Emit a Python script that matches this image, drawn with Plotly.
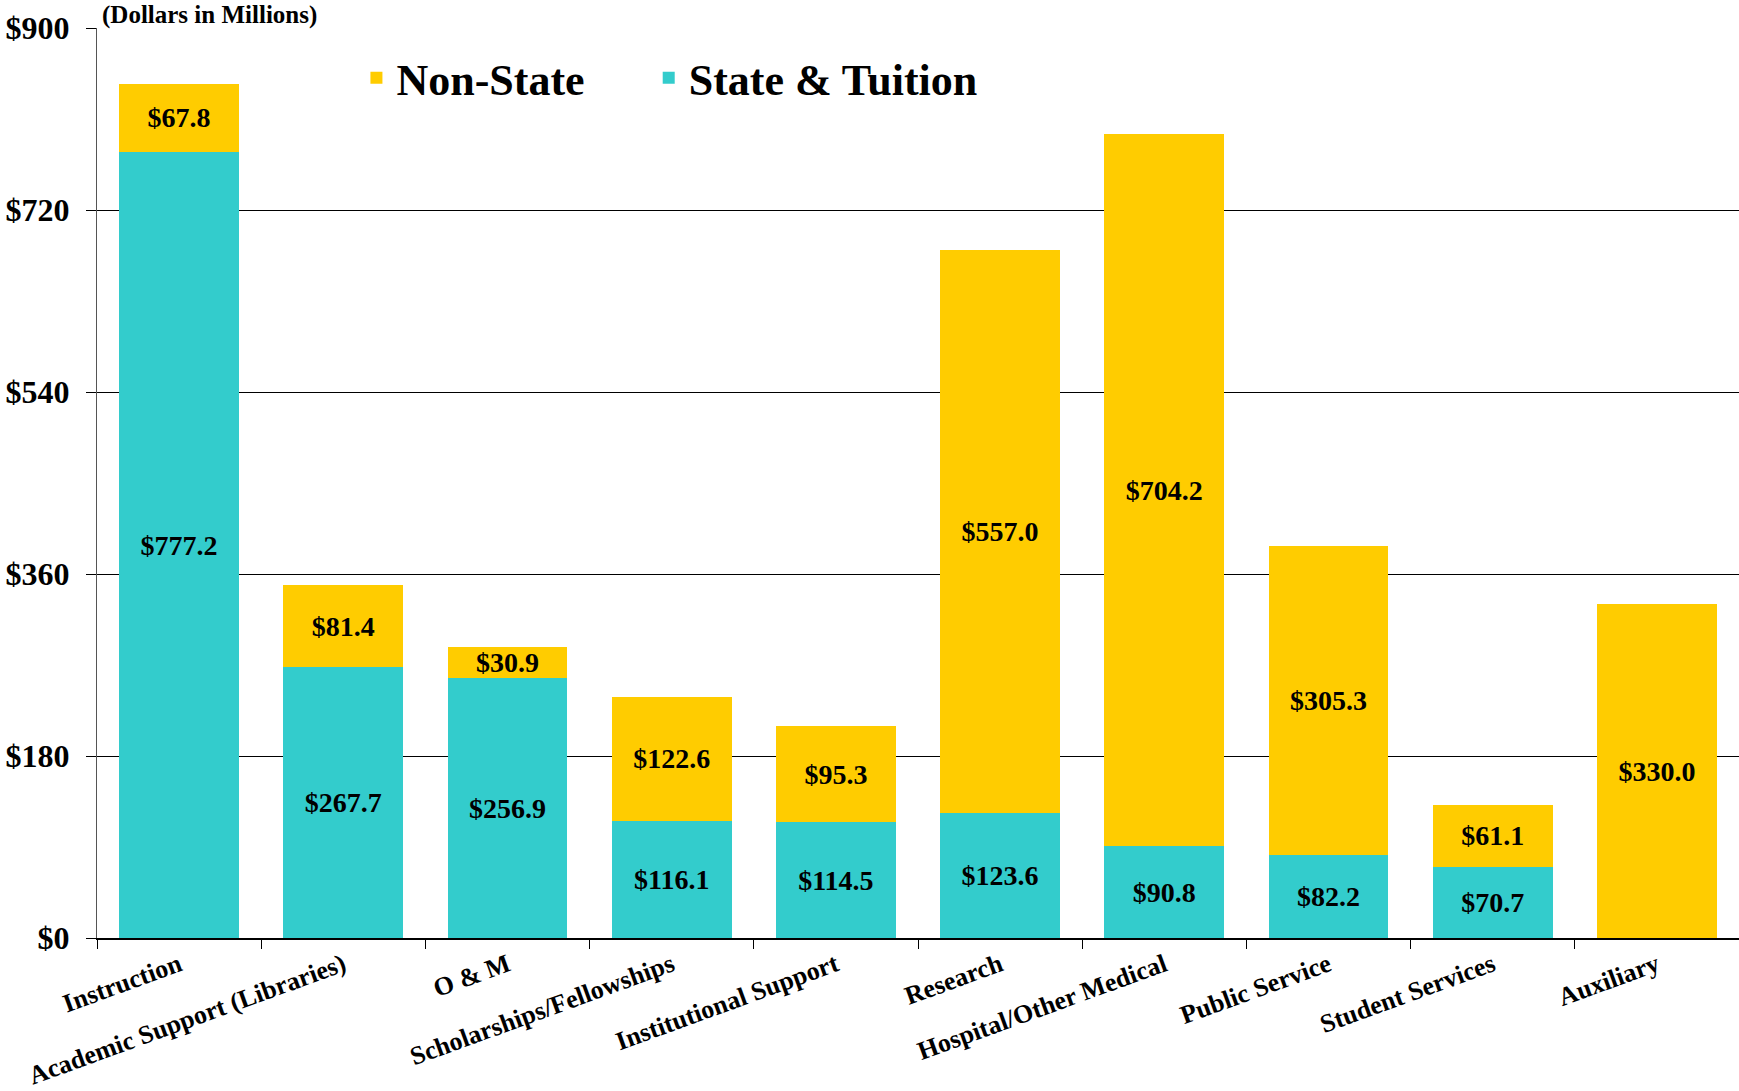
import plotly.graph_objects as go

categories = [
    "Instruction",
    "Academic Support (Libraries)",
    "O & M",
    "Scholarships/Fellowships",
    "Institutional Support",
    "Research",
    "Hospital/Other Medical",
    "Public Service",
    "Student Services",
    "Auxiliary",
]
state_tuition = [777.2, 267.7, 256.9, 116.1, 114.5, 123.6, 90.8, 82.2, 70.7, 0.0]
non_state = [67.8, 81.4, 30.9, 122.6, 95.3, 557.0, 704.2, 305.3, 61.1, 330.0]
y_ticks = [0, 180, 360, 540, 720, 900]

FONT = "Liberation Serif"
TEAL = "#33CCCC"
GOLD = "#FFCC00"


def labels(values):
    return [f"${v:.1f}" if v else "" for v in values]


fig = go.Figure()

fig.add_trace(go.Bar(
    x=categories, y=state_tuition, name="State & Tuition", legend="legend2",
    marker=dict(color=TEAL, line=dict(width=0)),
    text=labels(state_tuition), textposition="inside", insidetextanchor="middle",
    textangle=0, constraintext="none",
    textfont=dict(family=FONT, size=28, color="black", weight="bold"),
    hoverinfo="skip", showlegend=True,
))
fig.add_trace(go.Bar(
    x=categories, y=non_state, name="Non-State", legend="legend",
    marker=dict(color=GOLD, line=dict(width=0)),
    text=labels(non_state), textposition="inside", insidetextanchor="middle",
    textangle=0, constraintext="none",
    textfont=dict(family=FONT, size=28, color="black", weight="bold"),
    hoverinfo="skip", showlegend=True,
))

fig.add_annotation(
    text="(Dollars in Millions)", xref="paper", yref="paper",
    x=0.002, y=1.0, xanchor="left", yanchor="bottom", showarrow=False,
    yshift=-3,
    font=dict(family=FONT, size=25, color="black", weight="bold"),
)

legend_style = dict(
    orientation="h", yanchor="middle", xanchor="left", y=0.945,
    font=dict(family=FONT, size=44, color="black", weight="bold"),
    bgcolor="rgba(0,0,0,0)",
)

fig.update_layout(
    width=1739, height=1091,
    barmode="stack", bargap=0.27, showlegend=True,
    plot_bgcolor="white", paper_bgcolor="white",
    margin=dict(l=97, r=0, t=28, b=153, autoexpand=False),
    font=dict(family=FONT, color="black"),
    legend=dict(x=0.158, **legend_style),
    legend2=dict(x=0.336, **legend_style),
    xaxis=dict(
        tickangle=-20, tickson="boundaries", ticks="outside", ticklen=9,
        tickcolor="black", showline=True, linecolor="black", linewidth=1.5,
        tickfont=dict(family=FONT, size=26, color="black", weight="bold"),
        automargin=False,
    ),
    yaxis=dict(
        range=[0, 900], tickvals=y_ticks,
        ticktext=[f"${v}" for v in y_ticks],
        showgrid=True, gridcolor="black", gridwidth=1,
        ticks="outside", ticklen=10, tickcolor="black",
        ticklabelstandoff=10,
        showline=True, linecolor="#555555", linewidth=1,
        zeroline=False,
        tickfont=dict(family=FONT, size=32, color="black", weight="bold"),
        automargin=False,
    ),
)

# page body has an 8px default margin; drop it so the figure sits at the window corner
fig.write_html(
    "out.html",
    config={"displayModeBar": False},
    post_script="document.body.style.margin='0px';",
)
